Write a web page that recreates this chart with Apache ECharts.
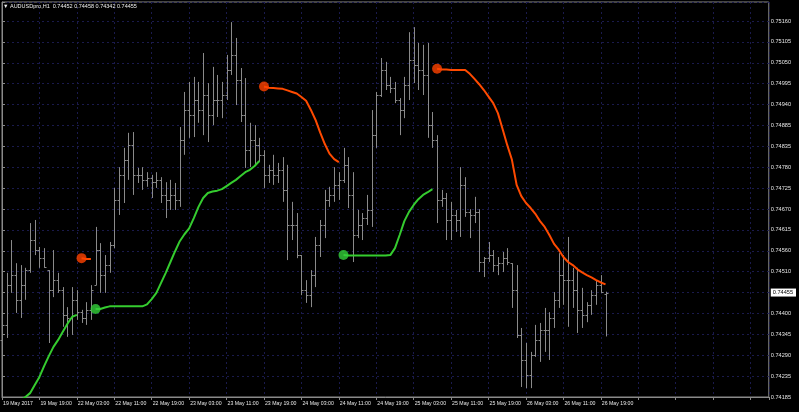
<!DOCTYPE html>
<html>
<head>
<meta charset="utf-8">
<script src="https://cdn.jsdelivr.net/npm/echarts@6/dist/echarts.min.js"></script>
<style>
html,body{margin:0;padding:0;background:#000;}
#chart{width:799px;height:412px;}
</style>
</head>
<body>
<div id="chart"></div>
<script>
const symbolName = 'AUDUSDpro,H1';

const opens = [0.74333,0.74372,0.74475,0.74501,0.74437,0.74475,0.74514,0.74592,0.74566,0.74545,
 0.74514,0.74462,0.74488,0.74462,0.74398,0.74390,0.74437,0.74405,0.74390,0.74411,
 0.74475,0.74566,0.74501,0.74527,0.74579,0.74696,0.74761,0.74800,0.74838,0.74761,
 0.74761,0.74748,0.74753,0.74742,0.74748,0.74709,0.74696,0.74709,0.74696,0.74851,
 0.74929,0.74916,0.74955,0.74929,0.74968,0.74916,0.74955,0.74955,0.74968,0.75033,
 0.75072,0.75007,0.74916,0.74825,0.74851,0.74838,0.74813,0.74761,0.74774,0.74761,
 0.74774,0.74722,0.74631,0.74631,0.74553,0.74462,0.74449,0.74501,0.74579,0.74631,
 0.74696,0.74709,0.74735,0.74748,0.74787,0.74709,0.74605,0.74631,0.74649,0.74670,
 0.74864,0.74968,0.75033,0.74994,0.74986,0.74955,0.74929,0.74994,0.75059,0.75046,
 0.75033,0.75020,0.74890,0.74851,0.74696,0.74701,0.74644,0.74657,0.74644,0.74735,
 0.74665,0.74657,0.74665,0.74535,0.74545,0.74553,0.74527,0.74532,0.74545,0.74532,
 0.74462,0.74346,0.74281,0.74242,0.74294,0.74333,0.74359,0.74359,0.74390,0.74437,
 0.74501,0.74488,0.74488,0.74462,0.74411,0.74398,0.74424,0.74449,0.74475,0.74452];

const highs = [0.74385,0.74507,0.74592,0.74532,0.74527,0.74520,0.74636,0.74644,0.74574,0.74571,
 0.74514,0.74566,0.74507,0.74470,0.74418,0.74470,0.74462,0.74411,0.74431,0.74475,
 0.74626,0.74584,0.74553,0.74587,0.74727,0.74781,0.74831,0.74870,0.74872,0.74779,
 0.74781,0.74768,0.74761,0.74768,0.74755,0.74742,0.74748,0.74740,0.74885,0.74976,
 0.75002,0.75015,0.75002,0.75077,0.74999,0.75041,0.75020,0.75002,0.75072,0.75157,
 0.75116,0.75038,0.75012,0.74896,0.74890,0.74857,0.74825,0.74787,0.74813,0.74792,
 0.74807,0.74787,0.74691,0.74662,0.74553,0.74488,0.74514,0.74600,0.74644,0.74722,
 0.74730,0.74781,0.74768,0.74831,0.74807,0.74768,0.74670,0.74662,0.74709,0.74929,
 0.74976,0.75064,0.75054,0.75015,0.75002,0.74960,0.75015,0.75131,0.75144,0.75103,
 0.75098,0.75103,0.74924,0.74864,0.74722,0.74714,0.74691,0.74670,0.74781,0.74755,
 0.74672,0.74704,0.74672,0.74548,0.74587,0.74566,0.74548,0.74561,0.74571,0.74532,
 0.74527,0.74364,0.74325,0.74302,0.74372,0.74377,0.74416,0.74405,0.74457,0.74558,
 0.74553,0.74600,0.74520,0.74520,0.74468,0.74431,0.74462,0.74488,0.74501,0.74458];

const lows = [0.74294,0.74338,0.74455,0.74403,0.74390,0.74437,0.74507,0.74553,0.74520,0.74520,
 0.74325,0.74444,0.74455,0.74367,0.74341,0.74346,0.74385,0.74377,0.74372,0.74385,
 0.74475,0.74455,0.74455,0.74507,0.74571,0.74657,0.74688,0.74748,0.74709,0.74740,
 0.74722,0.74730,0.74701,0.74727,0.74688,0.74649,0.74670,0.74670,0.74678,0.74813,
 0.74857,0.74859,0.74896,0.74864,0.74846,0.74890,0.74911,0.74908,0.74955,0.75020,
 0.74942,0.74898,0.74779,0.74781,0.74787,0.74794,0.74727,0.74740,0.74735,0.74740,
 0.74691,0.74540,0.74592,0.74545,0.74449,0.74429,0.74418,0.74470,0.74548,0.74597,
 0.74678,0.74691,0.74696,0.74740,0.74675,0.74535,0.74597,0.74592,0.74631,0.74626,
 0.74831,0.74963,0.74981,0.74973,0.74947,0.74864,0.74908,0.74955,0.74999,0.74981,
 0.74968,0.74857,0.74831,0.74636,0.74678,0.74592,0.74592,0.74613,0.74600,0.74652,
 0.74597,0.74636,0.74509,0.74496,0.74535,0.74509,0.74501,0.74509,0.74527,0.74416,
 0.74338,0.74211,0.74208,0.74208,0.74289,0.74276,0.74302,0.74281,0.74364,0.74416,
 0.74424,0.74367,0.74416,0.74351,0.74364,0.74379,0.74398,0.74424,0.74455,0.74342];

const closes = [0.74372,0.74475,0.74501,0.74437,0.74475,0.74514,0.74592,0.74566,0.74545,0.74522,
 0.74462,0.74488,0.74462,0.74398,0.74390,0.74437,0.74405,0.74390,0.74411,0.74462,
 0.74566,0.74501,0.74527,0.74579,0.74696,0.74761,0.74800,0.74838,0.74761,0.74761,
 0.74748,0.74753,0.74742,0.74748,0.74709,0.74696,0.74709,0.74696,0.74851,0.74929,
 0.74916,0.74955,0.74929,0.74968,0.74916,0.74955,0.74955,0.74968,0.75033,0.75072,
 0.75007,0.74916,0.74825,0.74851,0.74838,0.74813,0.74761,0.74774,0.74761,0.74774,
 0.74722,0.74631,0.74631,0.74553,0.74462,0.74449,0.74501,0.74579,0.74631,0.74696,
 0.74709,0.74735,0.74748,0.74787,0.74709,0.74605,0.74631,0.74649,0.74670,0.74864,
 0.74968,0.75033,0.74994,0.74986,0.74955,0.74929,0.74994,0.75059,0.75046,0.75033,
 0.75020,0.74890,0.74851,0.74696,0.74701,0.74644,0.74657,0.74644,0.74735,0.74665,
 0.74657,0.74665,0.74535,0.74545,0.74553,0.74527,0.74532,0.74545,0.74535,0.74462,
 0.74346,0.74281,0.74242,0.74294,0.74333,0.74359,0.74359,0.74390,0.74437,0.74501,
 0.74488,0.74488,0.74462,0.74411,0.74398,0.74424,0.74449,0.74475,0.74457,0.74455];

const greenLine = [null,null,null,0.74164,0.74177,0.74185,0.74195,0.74216,0.74237,0.74265,
 0.74291,0.74315,0.74333,0.74354,0.74375,0.74393,0.74398,null,null,null,
 0.74413,0.74413,0.74417,0.74420,0.74420,0.74420,0.74420,0.74420,0.74420,0.74420,
 0.74420,0.74425,0.74439,0.74455,0.74481,0.74507,0.74535,0.74563,0.74589,0.74607,
 0.74622,0.74649,0.74678,0.74701,0.74714,0.74718,0.74720,0.74724,0.74732,0.74740,
 0.74748,0.74758,0.74768,0.74774,0.74784,0.74797,null,null,null,null,
 null,null,null,null,null,null,null,null,null,null,
 null,null,null,0.74553,0.74552,0.74552,0.74552,0.74552,0.74552,0.74552,
 0.74552,0.74552,0.74552,0.74553,0.74571,0.74605,0.74641,0.74665,0.74683,0.74698,
 0.74709,0.74716,0.74724,null,null,null,null,null,null,null,
 null,null,null,null,null,null,null,null,null,null,
 null,null,null,null,null,null,null,null,null,null,
 null,null,null,null,null,null,null,null,null,null];

const redLine = [null,null,null,null,null,null,null,null,null,null,
 null,null,null,null,null,null,null,0.74545,0.74543,0.74543,
 null,null,null,null,null,null,null,null,null,null,
 null,null,null,null,null,null,null,null,null,null,
 null,null,null,null,null,null,null,null,null,null,
 null,null,null,null,null,null,0.74990,0.74987,0.74986,0.74985,
 0.74984,0.74980,0.74976,0.74972,0.74963,0.74953,0.74930,0.74904,0.74871,0.74841,
 0.74816,0.74802,0.74794,null,null,null,null,null,null,null,
 null,null,null,null,null,null,null,null,null,null,
 null,null,null,0.75036,0.75034,0.75034,0.75033,0.75033,0.75033,0.75033,
 0.75023,0.75010,0.74996,0.74981,0.74964,0.74947,0.74921,0.74880,0.74838,0.74800,
 0.74735,0.74706,0.74688,0.74675,0.74660,0.74641,0.74626,0.74605,0.74582,0.74567,
 0.74548,0.74535,0.74527,0.74516,0.74508,0.74501,0.74495,0.74488,0.74482,0.74477];

const greenDotBars = [20, 73];
const redDotBars = [17, 56, 93];

const xTickLabels = ['19 May 2017','19 May 19:00','22 May 03:00','22 May 11:00','22 May 19:00',
 '23 May 03:00','23 May 11:00','23 May 19:00','24 May 03:00','24 May 11:00','24 May 19:00',
 '25 May 03:00','25 May 11:00','25 May 19:00','26 May 03:00','26 May 11:00','26 May 19:00'];

const yTickLabels = ['0.74185','0.74235','0.74290','0.74345','0.74400','0.74455','0.74510','0.74560',
 '0.74615','0.74670','0.74725','0.74780','0.74835','0.74885','0.74940','0.74995','0.75050','0.75105','0.75160'];

const Y_MIN = 0.74185, Y_STEP = 0.000541667, Y_MAX = 0.752092;
const X_STEP = 8, X_MAX = 163.9;

const last = closes.length - 1;
const bidLabel = closes[last].toFixed(5);
const titleText = '\u25BC ' + symbolName + '  ' + opens[last].toFixed(5) + ' ' + highs[last].toFixed(5) + ' ' +
  lows[last].toFixed(5) + ' ' + closes[last].toFixed(5);

const ohlc = opens.map((o, i) => [i, o, closes[i], lows[i], highs[i]]);

const chart = echarts.init(document.getElementById('chart'), null, {renderer: 'canvas'});
const FONT = 'Liberation Sans';
const BAR_COLOR = '#8a8a8a';
const GRID_COLOR = '#1a1a4c';

chart.setOption({
  animation: false,
  backgroundColor: '#000',
  title: {
    text: titleText, left: 3, top: 3, padding: 0,
    textStyle: {color: '#f0f0f0', fontSize: 5.5, fontWeight: 'normal', fontFamily: FONT}
  },
  grid: {left: 2, top: 2, right: 25, bottom: 15, show: true, borderColor: '#8a8a8a', borderWidth: 1, backgroundColor: '#000'},
  xAxis: {
    type: 'value', min: 0, max: X_MAX, interval: X_STEP,
    axisLine: {show: true, lineStyle: {color: '#8a8a8a'}},
    axisTick: {show: true, length: 3, lineStyle: {color: '#8a8a8a'}},
    splitLine: {show: true, lineStyle: {color: GRID_COLOR, type: [2, 3], width: 1}},
    axisLabel: {
      color: '#e6e6e6', fontSize: 5.2, fontFamily: FONT, align: 'left', margin: 4, padding: [0,0,0,1],
      formatter: function (v) {
        const k = Math.round(v / X_STEP);
        if (Math.abs(v - k * X_STEP) > 0.01) return '';
        return xTickLabels[k] || '';
      }
    }
  },
  yAxis: {
    type: 'value', position: 'right', min: Y_MIN, max: Y_MAX, interval: Y_STEP, scale: true,
    axisLine: {show: true, lineStyle: {color: '#8a8a8a'}},
    axisTick: {show: true, length: 3, lineStyle: {color: '#8a8a8a'}},
    splitLine: {show: true, lineStyle: {color: GRID_COLOR, type: [2, 3], width: 1}},
    axisLabel: {
      color: '#e6e6e6', fontSize: 5.6, fontFamily: FONT, margin: 2,
      formatter: function (v) {
        const k = Math.round((v - Y_MIN) / Y_STEP);
        if (Math.abs(v - (Y_MIN + k * Y_STEP)) > Y_STEP * 0.1) return '';
        const s = yTickLabels[k];
        if (!s) return '';
        return s === bidLabel ? '{bid|' + s + '}' : s;
      },
      rich: {
        bid: {backgroundColor: '#ffffff', color: '#000000', fontSize: 5.6, fontFamily: FONT, padding: [1, 3, 1, 2]}
      }
    }
  },
  series: [
    {
      type: 'custom', name: 'bars', data: ohlc, z: 2,
      renderItem: function (params, api) {
        const i = api.value(0);
        const o = api.coord([i, api.value(1)]);
        const c = api.coord([i, api.value(2)]);
        const l = api.coord([i, api.value(3)]);
        const h = api.coord([i, api.value(4)]);
        const px = Math.round(o[0]) + 0.5;
        const st = {stroke: BAR_COLOR, lineWidth: 1};
        return {type: 'group', children: [
          {type: 'line', shape: {x1: px, y1: h[1], x2: px, y2: l[1]}, style: st},
          {type: 'line', shape: {x1: px - 2, y1: Math.round(o[1]) + 0.5, x2: px, y2: Math.round(o[1]) + 0.5}, style: st},
          {type: 'line', shape: {x1: px, y1: Math.round(c[1]) + 0.5, x2: px + 2, y2: Math.round(c[1]) + 0.5}, style: st}
        ]};
      },
      markLine: {
        silent: true, symbol: 'none', animation: false,
        label: {show: false},
        lineStyle: {color: '#262666', type: 'solid', width: 1},
        data: [{yAxis: closes[last]}]
      }
    },
    {
      type: 'line', name: 'up', z: 3, data: greenLine.map((v, i) => [i, v]),
      showSymbol: false, connectNulls: false, clip: true,
      lineStyle: {color: '#35cc2f', width: 2}
    },
    {
      type: 'line', name: 'down', z: 3, data: redLine.map((v, i) => [i, v]),
      showSymbol: false, connectNulls: false, clip: true,
      lineStyle: {color: '#ff4a00', width: 2}
    },
    {
      type: 'scatter', name: 'upStart', z: 4, symbolSize: 10,
      data: greenDotBars.map(i => [i, greenLine[i]]),
      itemStyle: {color: '#33d03a'}
    },
    {
      type: 'scatter', name: 'downStart', z: 4, symbolSize: 10,
      data: redDotBars.map(i => [i, redLine[i]]),
      itemStyle: {color: '#ff4200'}
    }
  ]
});
</script>
</body>
</html>
